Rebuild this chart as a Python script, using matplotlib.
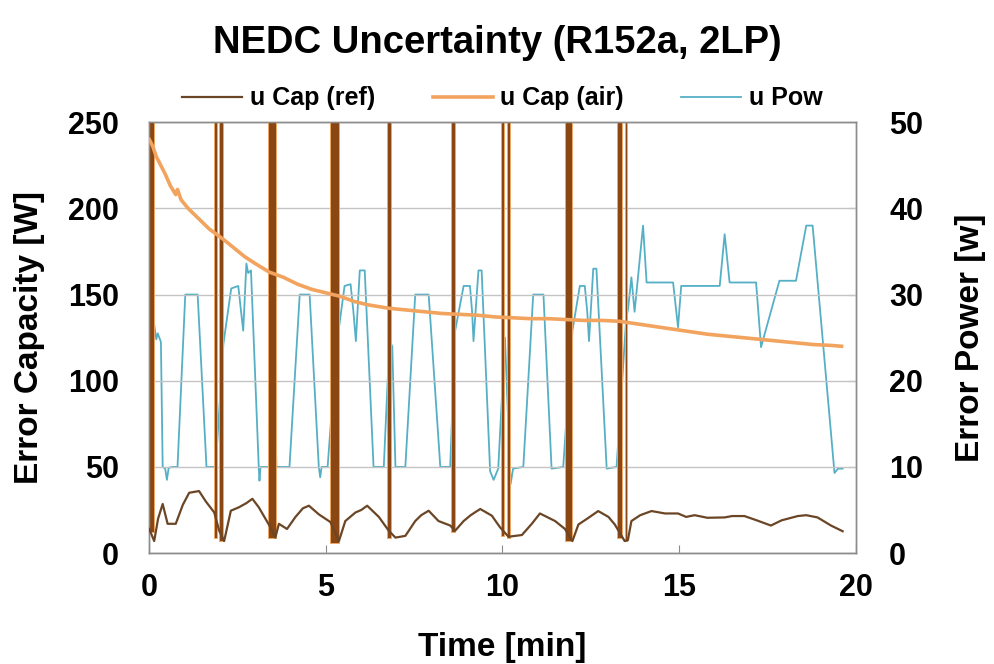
"""NEDC uncertainty chart (R152a, 2LP): capacity and power error over time."""

import matplotlib

matplotlib.use("Agg")
import matplotlib.pyplot as plt


# u Cap (ref) -- left axis [W]
REF_TIME = [
    0.0, 0.14, 0.25, 0.38, 0.52, 0.75, 0.95, 1.13, 1.41, 1.6, 1.84, 1.98, 2.12,
    2.31, 2.54, 2.75, 2.92, 3.1, 3.43, 3.57, 3.67, 3.9, 4.14, 4.35, 4.52, 4.8,
    5.13, 5.37, 5.55, 5.84, 6.0, 6.17, 6.5, 6.78, 6.97, 7.25, 7.53, 7.7, 7.91,
    8.19, 8.52, 8.66, 8.9, 9.1, 9.37, 9.7, 9.93, 10.17, 10.55, 10.83, 11.06,
    11.49, 11.77, 11.98, 12.15, 12.4, 12.71, 13.0, 13.18, 13.46, 13.55, 13.65,
    13.9, 14.22, 14.6, 14.97, 15.2, 15.44, 15.8, 16.29, 16.5, 16.85, 17.2,
    17.6, 17.9, 18.36, 18.6, 18.92, 19.3, 19.63,
]
REF_CAP = [
    14, 7, 20, 28.5, 17, 17, 28, 35, 36, 30, 23.6, 13, 7,
    24.6, 26.6, 29, 31.5, 26.6, 15, 9, 17, 14, 21, 26, 27.5, 22.5,
    18, 7, 18.6, 23.6, 25, 27.5, 21, 13, 9, 10, 18.6, 22, 24.6,
    18.6, 16, 13, 18.6, 22, 25.6, 21.7, 15, 9.5, 10.5, 17, 23,
    18.6, 14, 7, 16.6, 20, 24.4, 21, 16.6, 7, 7.5, 18.6,
    22, 24.4, 23, 23, 21, 22, 20.5, 20.7, 21.5, 21.5, 19,
    16, 19, 21.5, 22, 20.7, 16, 12.7,
]

# u Cap (ref) spikes that run off the top of the chart
SPIKE_START = [0.0, 1.84, 1.98, 3.36, 5.11, 6.72, 8.53, 9.96, 10.13, 11.78, 13.24, 13.47]
SPIKE_END = [0.14, 1.92, 2.09, 3.59, 5.37, 6.84, 8.67, 10.04, 10.21, 11.98, 13.38, 13.52]
SPIKE_BASE = [12, 9, 7, 9, 6, 9, 12, 10, 9, 7, 9, 7]

# u Cap (air) -- left axis [W]
AIR_TIME = [
    0.0, 0.1, 0.2, 0.3, 0.45, 0.6, 0.75, 0.8, 0.9, 1.1, 1.3, 1.5, 1.7, 1.9,
    2.1, 2.4, 2.7, 3.0, 3.4, 3.8, 4.2, 4.6, 5.0, 5.4, 5.8, 6.2, 6.8, 7.3,
    7.8, 8.3, 8.8, 9.3, 9.8, 10.3, 10.8, 11.3, 11.8, 12.3, 12.8, 13.3, 13.8,
    14.3, 14.8, 15.3, 15.8, 16.3, 16.8, 17.3, 17.8, 18.3, 18.8, 19.3, 19.6,
]
AIR_CAP = [
    240, 236, 230, 226, 220, 213, 208, 211, 205, 200, 196, 192, 188, 185,
    182, 177, 172, 168, 163, 160, 156, 153, 151, 149, 146, 144, 142, 141,
    140, 139, 138.5, 138, 137, 136.5, 136, 136, 135.5, 135, 135, 134.5, 133,
    131.5, 130, 128.5, 127, 126, 125, 124, 123, 122, 121, 120.5, 120,
]

# u Pow -- right axis [W]
POW_TIME = [
    0.08, 0.14, 0.2, 0.24, 0.33, 0.38, 0.45, 0.5, 0.55, 0.66, 0.8, 1.02, 1.37,
    1.62, 1.88, 2.1, 2.32, 2.52, 2.6, 2.66, 2.75, 2.8, 2.88, 3.1, 3.12, 3.15,
    3.39, 3.47, 3.52, 3.6, 3.97, 4.26, 4.54, 4.8, 4.84, 4.88, 5.05, 5.3, 5.53,
    5.7, 5.78, 5.85, 5.96, 6.1, 6.35, 6.64, 6.8, 6.88, 6.97, 7.25, 7.53, 7.91,
    8.24, 8.52, 8.66, 8.9, 9.08, 9.14, 9.18, 9.32, 9.41, 9.65, 9.75, 9.88,
    10.07, 10.23, 10.3, 10.59, 10.87, 11.16, 11.39, 11.72, 11.98, 12.19,
    12.33, 12.4, 12.45, 12.57, 12.66, 12.95, 13.23, 13.5, 13.56, 13.65, 13.74,
    13.98, 14.08, 14.83, 14.97, 15.06, 16.15, 16.29, 16.43, 17.18, 17.32,
    17.84, 18.31, 18.6, 18.78, 19.4, 19.5, 19.63,
]
POW_ERR = [
    10, 26.5, 24.8, 25.5, 24.5, 10, 9.8, 8.5, 9.9, 10, 10, 30, 30,
    10, 10, 24.3, 30.7, 31, 28, 25.8, 33.6, 32.5, 32.8, 10, 8.4, 10,
    10, 25, 24, 10, 10, 30, 30, 10, 8.8, 10, 10, 24, 31,
    31.2, 28, 24.6, 32.8, 32.8, 10, 10, 24.6, 24, 10, 10, 30, 30,
    10, 10, 25.8, 31, 31, 28, 24.6, 32.8, 32.8, 9.5, 8.5, 9.8,
    25, 8, 9.8, 10, 30, 30, 9.8, 10, 25.8, 31,
    31, 28, 24.6, 33, 33, 9.8, 10, 27, 28.5, 32, 28,
    38, 31.4, 31.4, 26.2, 31, 31, 37, 31.4, 31.4, 23.9,
    31.6, 31.6, 38, 38, 9.3, 9.8, 9.8,
]

COLOR_REF = "#6b4626"
COLOR_AIR = "#f2a35e"
COLOR_POW = "#55b0c6"
COLOR_SPIKE = "#8a4713"
COLOR_SPIKE_EDGE = "#eea865"


def main() -> None:
    plt.rcParams.update(
        {
            "font.family": ["Liberation Sans", "DejaVu Sans"],
            "font.weight": "bold",
            "axes.labelweight": "bold",
            "font.size": 20,
        }
    )
    fig = plt.figure(figsize=(9.95, 6.64), dpi=100)
    ax = fig.add_axes([0.150, 0.167, 0.710, 0.649])
    ax2 = ax.twinx()

    widths = [e - s for s, e in zip(SPIKE_START, SPIKE_END)]
    heights = [300 - b for b in SPIKE_BASE]
    ax.bar(
        SPIKE_START,
        heights,
        width=widths,
        bottom=SPIKE_BASE,
        align="edge",
        color=COLOR_SPIKE,
        edgecolor=COLOR_SPIKE_EDGE,
        linewidth=0.7,
        zorder=2,
    )
    (l_ref,) = ax.plot(REF_TIME, REF_CAP, color=COLOR_REF, lw=1.6, zorder=3,
                       label="u Cap (ref)")
    (l_air,) = ax.plot(AIR_TIME, AIR_CAP, color=COLOR_AIR, lw=2.6, zorder=4,
                       label="u Cap (air)")
    (l_pow,) = ax2.plot(POW_TIME, POW_ERR, color=COLOR_POW, lw=1.3,
                        label="u Pow")

    ax.set_xlim(0, 20)
    ax.set_ylim(0, 250)
    ax2.set_ylim(0, 50)
    ax.set_xticks([0, 5, 10, 15, 20])
    ax.set_yticks([0, 50, 100, 150, 200, 250])
    ax2.set_yticks([0, 10, 20, 30, 40, 50])
    ax.grid(axis="y", color="#c4c4c4", linewidth=1.0, zorder=0)
    ax.set_axisbelow(True)

    # put the blue line behind the left-axis lines like the source
    ax.set_zorder(ax2.get_zorder() + 1)
    ax.patch.set_visible(False)

    for a in (ax, ax2):
        for spine in a.spines.values():
            spine.set_color("#8c8c8c")
            spine.set_linewidth(1.0)
    ax.tick_params(axis="x", direction="in", length=6, color="#8c8c8c",
                   labelsize=22, pad=14)
    ax.tick_params(axis="y", length=0, labelsize=22, pad=22)
    ax2.tick_params(axis="y", direction="in", length=6, color="#8c8c8c",
                    labelsize=22, pad=24)

    ax.set_xlabel("Time [min]", fontsize=24, labelpad=21)
    ax.set_ylabel("Error Capacity [W]", fontsize=24, labelpad=16)
    ax2.set_ylabel("Error Power [w]", fontsize=24, labelpad=23)

    ax.legend(
        handles=[l_ref, l_air, l_pow],
        loc="lower center",
        bbox_to_anchor=(0.5, 0.975),
        ncol=3,
        frameon=False,
        fontsize=18,
        handlelength=2.4,
        handletextpad=0.3,
        columnspacing=2.3,
    )
    fig.suptitle("NEDC Uncertainty (R152a, 2LP)", fontsize=27.5, y=0.962,
                 fontweight="bold")

    fig.savefig("out.png", dpi=100)
    plt.close(fig)


if __name__ == "__main__":
    main()
